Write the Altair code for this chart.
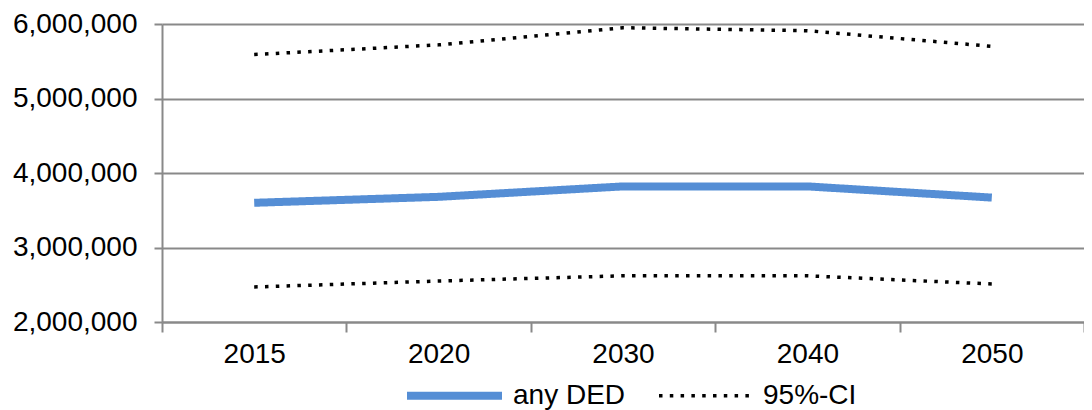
import altair as alt
import pandas as pd

years = ["2015", "2020", "2030", "2040", "2050"]
any_ded = [3600000, 3680000, 3820000, 3820000, 3670000]
ci_upper = [5590000, 5720000, 5950000, 5910000, 5700000]
ci_lower = [2470000, 2550000, 2620000, 2620000, 2510000]

rows = []
for y, v in zip(years, any_ded):
    rows.append({"year": y, "value": v, "series": "any", "group": "any DED"})
for y, v in zip(years, ci_upper):
    rows.append({"year": y, "value": v, "series": "upper", "group": "95%-CI"})
for y, v in zip(years, ci_lower):
    rows.append({"year": y, "value": v, "series": "lower", "group": "95%-CI"})
df = pd.DataFrame(rows)

FONT = "Liberation Sans"
GRID = "#898989"
domain = ["any DED", "95%-CI"]

chart = alt.Chart(df).mark_line(strokeCap="butt", strokeJoin="round").encode(
    x=alt.X(
        "year:O",
        bandPosition=0.5,
        sort=years,
        scale=alt.Scale(type="band", paddingInner=0, paddingOuter=0),
        axis=alt.Axis(
            title=None, labelAngle=0, tickBand="extent", grid=False,
            tickSize=10, labelPadding=8, tickColor=GRID, tickWidth=2,
            domainColor=GRID, domainWidth=2,
        ),
    ),
    y=alt.Y(
        "value:Q",
        scale=alt.Scale(domain=[2000000, 6000000], nice=False),
        axis=alt.Axis(
            title=None, values=[2000000, 3000000, 4000000, 5000000, 6000000],
            format=",.0f", tickSize=8, labelPadding=17, tickColor=GRID,
            tickWidth=2, domainColor=GRID, domainWidth=2,
            gridColor=GRID, gridWidth=2,
        ),
    ),
    color=alt.Color(
        "group:N",
        scale=alt.Scale(domain=domain, range=["#558ED5", "#000000"]),
        legend=alt.Legend(
            title=None, orient="none", direction="horizontal",
            legendX=241, legendY=320, symbolType="stroke",
            symbolSize=9025, labelOffset=7, columnPadding=26,
            labelFontSize=28, labelFont=FONT, labelColor="#000000",
            padding=0,
        ),
    ),
    strokeDash=alt.StrokeDash(
        "group:N",
        scale=alt.Scale(domain=domain, range=[[1, 0], [3.5, 7.3]]),
        legend=alt.Legend(title=None),
    ),
    strokeWidth=alt.StrokeWidth(
        "group:N",
        scale=alt.Scale(domain=domain, range=[8, 3.5]),
        legend=alt.Legend(title=None),
    ),
    detail="series:N",
).properties(
    width=922,
    height=298,
    autosize=alt.AutoSizeParams(type="none"),
    padding={"left": 154, "top": 16, "right": 0, "bottom": 88},
).configure_axis(
    labelFont=FONT, labelFontSize=28, labelColor="#000000",
).configure_view(stroke=None)

chart.save("out.html", embed_options={"renderer": "svg", "actions": False})
